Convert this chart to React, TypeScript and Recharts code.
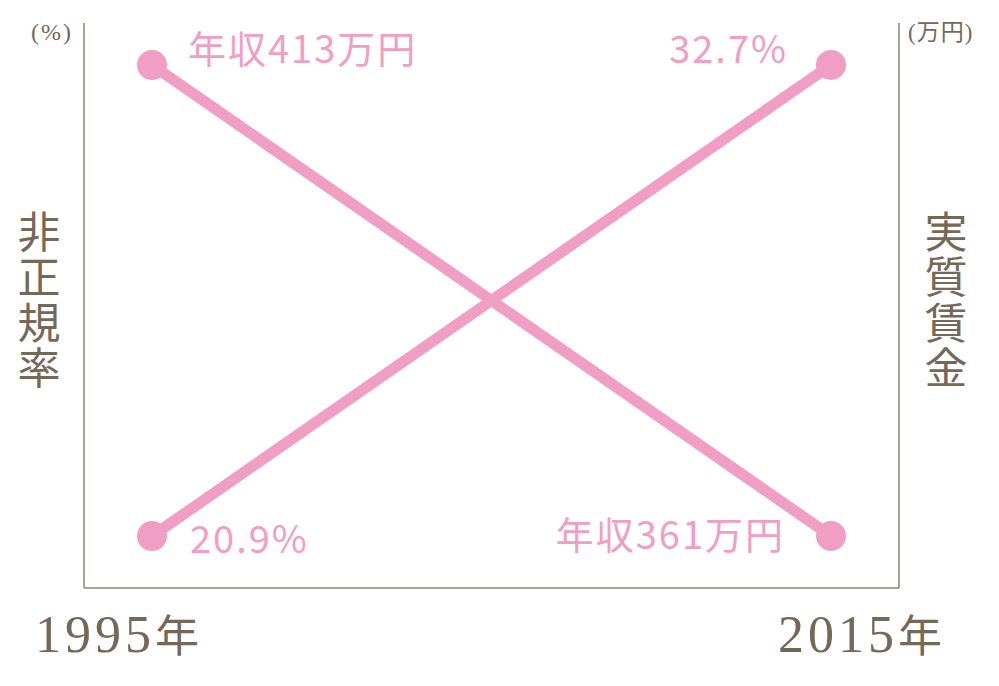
import { Label, LabelList, Line, LineChart, XAxis, YAxis } from "recharts";

const years = ["1995", "2015"];
const irregularRate = [20.9, 32.7];
const realWage = [413, 361];
const rateTitle = "非正規率";
const wageTitle = "実質賃金";
const rateUnit = "(%)";
const wageUnit = "(万円)";

const data = years.map((year, i) => ({
  year,
  rate: irregularRate[i],
  wage: realWage[i],
}));

const PINK = "#F09EC3";
const BROWN = "#766857";
const AXIS = "#8C8475";
const JP = "'Noto Sans CJK JP', 'Noto Sans', sans-serif";
const SERIF = "'Liberation Serif', 'DejaVu Serif', 'Noto Sans CJK JP', serif";

const YearTick = (props: any) => {
  const { x, y, payload, index } = props;
  const first = index === 0;
  return (
    <text
      x={first ? x - 117 : x + 111}
      y={y + 64}
      textAnchor={first ? "start" : "end"}
      fill={BROWN}
    >
      <tspan fontFamily={SERIF} fontSize={52} letterSpacing={4}>
        {payload.value}
      </tspan>
      <tspan fontFamily={JP} fontSize={44}>
        年
      </tspan>
    </text>
  );
};

const AxisTitle = (props: any) => {
  const { viewBox, title, unit, side } = props;
  const left = side === "left";
  const ax = left ? viewBox.x + viewBox.width : viewBox.x;
  const cx = left ? ax - 45 : ax + 47;
  return (
    <g>
      <text
        x={left ? ax - 11 : ax + 9}
        y={viewBox.y + 17}
        textAnchor={left ? "end" : "start"}
        fill={BROWN}
        fontFamily={SERIF}
        fontSize={left ? 24 : 23}
        letterSpacing={left ? 2 : 1}
      >
        {unit}
      </text>
      <text
        x={cx}
        y={viewBox.y + 187}
        fill={BROWN}
        fontFamily={JP}
        fontSize={43}
        letterSpacing={2.5}
        textAnchor="start"
        style={{ writingMode: "vertical-rl" }}
      >
        {title}
      </text>
    </g>
  );
};

const pointLabel = (fmt: (v: number) => string, place: any[]) => (props: any) => {
  const { x, y, value, index } = props;
  const p = place[index];
  return (
    <text
      x={x + p.dx}
      y={y + p.dy}
      textAnchor={p.anchor}
      fill={PINK}
      fontFamily={JP}
      fontSize={38}
      letterSpacing={2}
    >
      {fmt(value)}
    </text>
  );
};

export default function App() {
  return (
    <div style={{ position: "absolute", left: 0, top: 0, background: "#fff" }}>
      <LineChart
        width={999}
        height={686}
        data={data}
        margin={{ top: 23, right: 99, bottom: 97, left: 83 }}
      >
        <XAxis
          dataKey="year"
          padding={{ left: 68, right: 68 }}
          height={1}
          tickLine={false}
          tickSize={0}
          tickMargin={0}
          axisLine={{ stroke: AXIS, strokeWidth: 1.5 }}
          tick={<YearTick />}
          interval={0}
        />
        <YAxis
          yAxisId="rate"
          orientation="left"
          width={1}
          domain={[19.6, 33.75]}
          allowDataOverflow
          tick={false}
          tickLine={false}
          axisLine={{ stroke: AXIS, strokeWidth: 1.5 }}
        >
          <Label
            content={(p: any) => (
              <AxisTitle {...p} title={rateTitle} unit={rateUnit} side="left" />
            )}
          />
        </YAxis>
        <YAxis
          yAxisId="wage"
          orientation="right"
          width={1}
          domain={[355.26, 417.64]}
          allowDataOverflow
          tick={false}
          tickLine={false}
          axisLine={{ stroke: AXIS, strokeWidth: 1.5 }}
        >
          <Label
            content={(p: any) => (
              <AxisTitle {...p} title={wageTitle} unit={wageUnit} side="right" />
            )}
          />
        </YAxis>
        <Line
          yAxisId="wage"
          dataKey="wage"
          stroke={PINK}
          strokeWidth={11}
          dot={{ r: 15, fill: PINK, stroke: "none" }}
          activeDot={false}
          isAnimationActive={false}
        >
          <LabelList
            dataKey="wage"
            content={pointLabel((v) => `年収${v}万円`, [
              { dx: 36, dy: -2, anchor: "start" },
              { dx: -46, dy: 13, anchor: "end" },
            ])}
          />
        </Line>
        <Line
          yAxisId="rate"
          dataKey="rate"
          stroke={PINK}
          strokeWidth={11}
          dot={{ r: 15, fill: PINK, stroke: "none" }}
          activeDot={false}
          isAnimationActive={false}
        >
          <LabelList
            dataKey="rate"
            content={pointLabel((v) => `${v}%`, [
              { dx: 38, dy: 17, anchor: "start" },
              { dx: -43, dy: -2, anchor: "end" },
            ])}
          />
        </Line>
      </LineChart>
    </div>
  );
}
